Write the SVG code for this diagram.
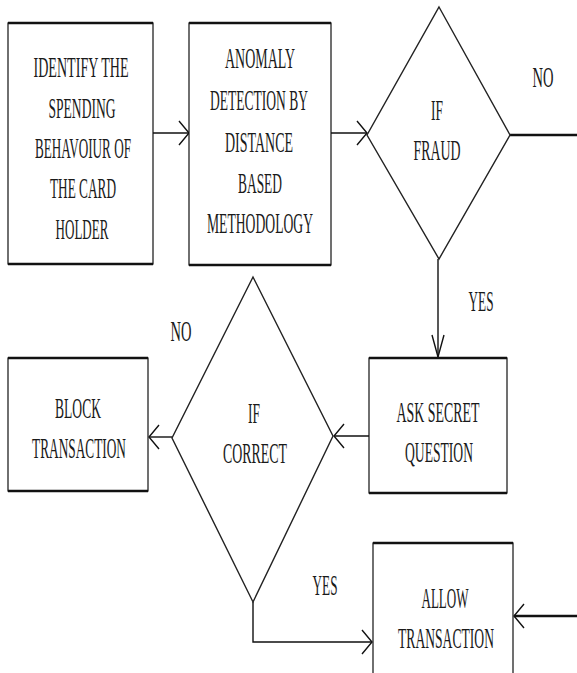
<svg xmlns="http://www.w3.org/2000/svg" width="577" height="673" viewBox="0 0 577 673">
<style>
.box{fill:#fff;stroke:#111;stroke-width:1.2}
.edge{fill:none;stroke:#111;stroke-width:2.4}
.dia{fill:#fff;stroke:#222;stroke-width:1.4}
.c{fill:none;stroke:#111;stroke-width:1.4}
.ct{fill:none;stroke:#111;stroke-width:2.4}
text{font-family:"Liberation Serif","Times New Roman",serif;font-size:29px;fill:#1a1a1a;text-anchor:middle}
</style>
<defs>
<marker id="ah" markerUnits="userSpaceOnUse" viewBox="0 -13 12 26" markerWidth="12" markerHeight="26" refX="11" refY="0" orient="auto">
<path d="M1,-12 L11,0 L1,12" fill="none" stroke="#111" stroke-width="1.4"/>
</marker>
<marker id="av" markerUnits="userSpaceOnUse" viewBox="0 -7 24 14" markerWidth="24" markerHeight="14" refX="23" refY="0" orient="auto">
<path d="M1,-6 L23,0 L1,6" fill="none" stroke="#111" stroke-width="1.4"/>
</marker>
</defs>
<g id="connectors" font-family="Liberation Serif, serif">
<line class="c" x1="153" y1="133" x2="189" y2="133" marker-end="url(#ah)"/>
<line class="c" x1="331" y1="133" x2="367" y2="133" marker-end="url(#ah)"/>
<line class="ct" x1="510" y1="135" x2="577" y2="135"/>
<line class="c" x1="438" y1="259" x2="438" y2="357" marker-end="url(#av)"/>
<line class="c" x1="369" y1="436" x2="334" y2="436" marker-end="url(#ah)"/>
<line class="c" x1="172" y1="437" x2="149" y2="437" marker-end="url(#ah)"/>
<path class="c" d="M253,602 L253,642 L372,642" marker-end="url(#ah)"/>
<line class="ct" x1="577" y1="616" x2="514" y2="616" marker-end="url(#ah)"/>
<text x="543" y="87" textLength="21" lengthAdjust="spacingAndGlyphs">NO</text>
<text x="481" y="311" textLength="25" lengthAdjust="spacingAndGlyphs">YES</text>
<text x="181" y="341" textLength="21" lengthAdjust="spacingAndGlyphs">NO</text>
<text x="325" y="595" textLength="25" lengthAdjust="spacingAndGlyphs">YES</text>
</g>
<g id="identify" font-family="Liberation Serif, serif">
<rect class="box" x="8" y="23" width="145" height="241"/>
<path class="edge" d="M8,23 H153 M8,264 H153"/>
<text x="81" y="77" textLength="95" lengthAdjust="spacingAndGlyphs">IDENTIFY THE</text>
<text x="82" y="118" textLength="67" lengthAdjust="spacingAndGlyphs">SPENDING</text>
<text x="83" y="158" textLength="96" lengthAdjust="spacingAndGlyphs">BEHAVOIUR OF</text>
<text x="83" y="198" textLength="66" lengthAdjust="spacingAndGlyphs">THE CARD</text>
<text x="82" y="239" textLength="53" lengthAdjust="spacingAndGlyphs">HOLDER</text>
</g>
<g id="anomaly" font-family="Liberation Serif, serif">
<rect class="box" x="189" y="23" width="142" height="242"/>
<path class="edge" d="M189,23 H331 M189,265 H331"/>
<text x="260" y="68" textLength="70" lengthAdjust="spacingAndGlyphs">ANOMALY</text>
<text x="259" y="110" textLength="98" lengthAdjust="spacingAndGlyphs">DETECTION BY</text>
<text x="259" y="152" textLength="68" lengthAdjust="spacingAndGlyphs">DISTANCE</text>
<text x="260" y="193" textLength="44" lengthAdjust="spacingAndGlyphs">BASED</text>
<text x="260" y="233" textLength="106" lengthAdjust="spacingAndGlyphs">METHODOLOGY</text>
</g>
<g id="iffraud" font-family="Liberation Serif, serif">
<polygon class="dia" points="439,7 510,135 439,259 367,135"/>
<text x="437" y="120" textLength="12" lengthAdjust="spacingAndGlyphs">IF</text>
<text x="437" y="160" textLength="47" lengthAdjust="spacingAndGlyphs">FRAUD</text>
</g>
<g id="asksecret" font-family="Liberation Serif, serif">
<rect class="box" x="369" y="358" width="138" height="135"/>
<path class="edge" d="M369,358 H507 M369,493 H507"/>
<text x="438" y="422" textLength="83" lengthAdjust="spacingAndGlyphs">ASK SECRET</text>
<text x="439" y="462" textLength="68" lengthAdjust="spacingAndGlyphs">QUESTION</text>
</g>
<g id="ifcorrect" font-family="Liberation Serif, serif">
<polygon class="dia" points="253,277 333,436 253,602 172,438"/>
<text x="254" y="423" textLength="12" lengthAdjust="spacingAndGlyphs">IF</text>
<text x="255" y="463" textLength="64" lengthAdjust="spacingAndGlyphs">CORRECT</text>
</g>
<g id="block" font-family="Liberation Serif, serif">
<rect class="box" x="8" y="358" width="140" height="133"/>
<path class="edge" d="M8,358 H148 M8,491 H148"/>
<text x="78" y="418" textLength="46" lengthAdjust="spacingAndGlyphs">BLOCK</text>
<text x="79" y="458" textLength="94" lengthAdjust="spacingAndGlyphs">TRANSACTION</text>
</g>
<g id="allow" font-family="Liberation Serif, serif">
<rect class="box" x="373" y="543" width="140" height="140"/>
<path class="edge" d="M373,543 H513"/>
<text x="445" y="608" textLength="47" lengthAdjust="spacingAndGlyphs">ALLOW</text>
<text x="446" y="648" textLength="96" lengthAdjust="spacingAndGlyphs">TRANSACTION</text>
</g>
</svg>
